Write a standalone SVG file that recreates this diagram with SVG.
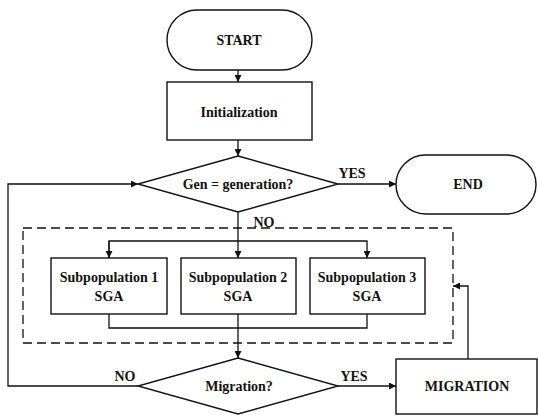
<svg xmlns="http://www.w3.org/2000/svg" width="538" height="416" viewBox="0 0 538 416">
<defs>
<marker id="arr" viewBox="0 0 10 10" refX="10" refY="5" markerWidth="8" markerHeight="7" markerUnits="userSpaceOnUse" orient="auto">
<path d="M0,0 L10,5 L0,10 Z" fill="#111"/>
</marker>
<style>
.s{fill:#fff;stroke:#111;stroke-width:1.4}
.t{font-family:"Liberation Serif","Times New Roman",serif;font-weight:bold;font-size:14px;fill:#111;text-anchor:middle}
.c{fill:none;stroke:#111;stroke-width:1.3}
.d{fill:none;stroke:#111;stroke-width:1.3;stroke-dasharray:9,5}
</style>
</defs>
<rect width="538" height="416" fill="#fff"/>
<rect id="group-box" class="d" x="23" y="228" width="430" height="115"/>
<g id="connectors">
<line class="c" x1="238" y1="70" x2="238" y2="82" marker-end="url(#arr)"/>
<line class="c" x1="238" y1="140" x2="238" y2="156" marker-end="url(#arr)"/>
<line class="c" x1="338" y1="184" x2="396" y2="184" marker-end="url(#arr)"/>
<line class="c" x1="238" y1="212" x2="238" y2="258" marker-end="url(#arr)"/>
<polyline class="c" points="109,258 109,241 367,241 367,258" marker-end="url(#arr)"/>
<path class="c" d="M109,241 L109,258" marker-end="url(#arr)"/>
<polyline class="c" points="109,314 109,328 367,328 367,314"/>
<line class="c" x1="238" y1="314" x2="238" y2="358" marker-end="url(#arr)"/>
<polyline class="c" points="138,386 8,386 8,184 138,184" marker-end="url(#arr)"/>
<line class="c" x1="338" y1="386" x2="396" y2="386" marker-end="url(#arr)"/>
<polyline class="c" points="468,359 468,286 453,286" marker-end="url(#arr)"/>
<text class="t" x="352" y="178">YES</text>
<text class="t" x="264" y="227">NO</text>
<text class="t" x="125" y="381">NO</text>
<text class="t" x="354" y="381">YES</text>
</g>
<g id="start">
<rect class="s" x="167" y="10" width="145" height="60" rx="30"/>
<text class="t" x="239" y="45">START</text>
</g>
<g id="init">
<rect class="s" x="167" y="82" width="145" height="58"/>
<text class="t" x="239" y="117">Initialization</text>
</g>
<g id="gen-decision">
<polygon class="s" points="238,156 338,184 238,212 138,184"/>
<text class="t" x="238" y="189">Gen = generation?</text>
</g>
<g id="end">
<rect class="s" x="396" y="155" width="140" height="59" rx="29.5"/>
<text class="t" x="468" y="189">END</text>
</g>
<g id="sub1">
<rect class="s" x="51" y="258" width="116" height="56"/>
<text class="t" x="109" y="282">Subpopulation 1</text>
<text class="t" x="109" y="301">SGA</text>
</g>
<g id="sub2">
<rect class="s" x="181" y="258" width="115" height="56"/>
<text class="t" x="238" y="282">Subpopulation 2</text>
<text class="t" x="238" y="301">SGA</text>
</g>
<g id="sub3">
<rect class="s" x="310" y="258" width="115" height="56"/>
<text class="t" x="367" y="282">Subpopulation 3</text>
<text class="t" x="367" y="301">SGA</text>
</g>
<g id="migration-decision">
<polygon class="s" points="238,358 338,386 238,414 138,386"/>
<text class="t" x="239" y="391">Migration?</text>
</g>
<g id="migration">
<rect class="s" x="396" y="359" width="141" height="55"/>
<text class="t" x="467" y="391">MIGRATION</text>
</g>
</svg>
